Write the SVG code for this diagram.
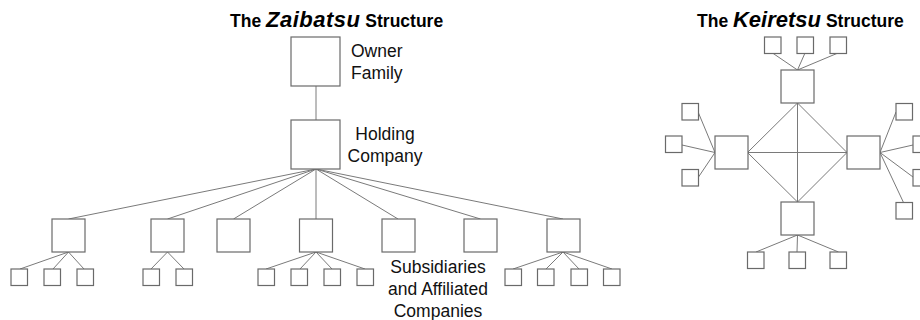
<svg xmlns="http://www.w3.org/2000/svg" width="920" height="320" viewBox="0 0 920 320">
  <style>
    .box { fill: #ffffff; stroke: #6a6a6a; stroke-width: 1.2; }
    .link { fill: none; stroke: #7a7a7a; stroke-width: 1; }
    .title { font-family: "Liberation Sans", Arial, sans-serif; font-weight: bold; font-size: 17.5px; fill: #000; }
    .title .em { font-style: italic; font-size: 22px; }
    .label { font-family: "Liberation Sans", Arial, sans-serif; font-size: 17.5px; fill: #111; }
  </style>
  <rect width="920" height="320" fill="#ffffff"/>

  <!-- Titles -->
  <text class="title" x="230" y="27">The <tspan class="em" letter-spacing="0.5">Zaibatsu</tspan> Structure</text>
  <text class="title" x="697" y="27">The <tspan class="em">Keiretsu</tspan> Structure</text>

  <!-- Connectors -->
  <g id="connectors" class="link">
    <!-- zaibatsu: family to holding -->
    <line x1="316" y1="86" x2="316" y2="120"/>
    <!-- holding to subsidiaries -->
    <line x1="316" y1="169" x2="68.5" y2="219"/>
    <line x1="316" y1="169" x2="167.5" y2="219"/>
    <line x1="316" y1="169" x2="233.5" y2="219"/>
    <line x1="316" y1="169" x2="316" y2="219"/>
    <line x1="316" y1="169" x2="398" y2="219"/>
    <line x1="316" y1="169" x2="480.5" y2="219"/>
    <line x1="316" y1="169" x2="563" y2="219"/>
    <!-- subsidiaries to affiliates -->
    <line x1="68.5" y1="252" x2="20" y2="269"/>
    <line x1="68.5" y1="252" x2="53" y2="269"/>
    <line x1="68.5" y1="252" x2="84" y2="269"/>
    <line x1="167.5" y1="252" x2="151" y2="269"/>
    <line x1="167.5" y1="252" x2="184" y2="269"/>
    <line x1="316" y1="252" x2="266" y2="269"/>
    <line x1="316" y1="252" x2="300" y2="269"/>
    <line x1="316" y1="252" x2="332" y2="269"/>
    <line x1="316" y1="252" x2="365" y2="269"/>
    <line x1="563" y1="252" x2="513" y2="269"/>
    <line x1="563" y1="252" x2="546" y2="269"/>
    <line x1="563" y1="252" x2="579" y2="269"/>
    <line x1="563" y1="252" x2="612" y2="269"/>

    <!-- keiretsu: core diamond -->
    <line x1="797.5" y1="103" x2="747.5" y2="152.5"/>
    <line x1="797.5" y1="103" x2="847" y2="152.5"/>
    <line x1="797.5" y1="202" x2="747.5" y2="152.5"/>
    <line x1="797.5" y1="202" x2="847" y2="152.5"/>
    <line x1="797.5" y1="103" x2="797.5" y2="202"/>
    <line x1="747.5" y1="152.5" x2="847" y2="152.5"/>
    <!-- top group -->
    <line x1="797.5" y1="70" x2="772.5" y2="53"/>
    <line x1="797.5" y1="70" x2="805" y2="53"/>
    <line x1="797.5" y1="70" x2="838" y2="53"/>
    <!-- bottom group -->
    <line x1="797.5" y1="235" x2="756" y2="252"/>
    <line x1="797.5" y1="235" x2="797" y2="252"/>
    <line x1="797.5" y1="235" x2="838.5" y2="252"/>
    <!-- left group -->
    <line x1="715" y1="152.5" x2="698.5" y2="113"/>
    <line x1="715" y1="152.5" x2="682" y2="145"/>
    <line x1="715" y1="152.5" x2="698.5" y2="177"/>
    <!-- right group -->
    <line x1="880" y1="152.5" x2="896" y2="112"/>
    <line x1="880" y1="152.5" x2="913" y2="145"/>
    <line x1="880" y1="152.5" x2="913" y2="177"/>
    <line x1="880" y1="152.5" x2="903.5" y2="202.5"/>
  </g>

  <!-- Zaibatsu nodes -->
  <g id="owner-family">
    <rect class="box" x="291" y="37" width="49" height="49"/>
    <text class="label" x="351" y="57">Owner</text>
    <text class="label" x="351" y="79">Family</text>
  </g>
  <g id="holding-company">
    <rect class="box" x="291" y="120" width="49" height="49"/>
    <text class="label" x="385" y="140" text-anchor="middle">Holding</text>
    <text class="label" x="385" y="162" text-anchor="middle">Company</text>
  </g>
  <g id="subsidiaries">
    <rect class="box" x="52" y="219" width="33" height="33"/>
    <rect class="box" x="151" y="219" width="33" height="33"/>
    <rect class="box" x="217" y="219" width="33" height="33"/>
    <rect class="box" x="299.5" y="219" width="33" height="33"/>
    <rect class="box" x="382" y="219" width="33" height="33"/>
    <rect class="box" x="464" y="219" width="33" height="33"/>
    <rect class="box" x="547" y="219" width="33" height="33"/>
  </g>
  <g id="affiliates">
    <rect class="box" x="11" y="269" width="16.5" height="16.5"/>
    <rect class="box" x="44" y="269" width="16.5" height="16.5"/>
    <rect class="box" x="77" y="269" width="16.5" height="16.5"/>
    <rect class="box" x="143" y="269" width="16.5" height="16.5"/>
    <rect class="box" x="176" y="269" width="16.5" height="16.5"/>
    <rect class="box" x="258" y="269" width="16.5" height="16.5"/>
    <rect class="box" x="291" y="269" width="16.5" height="16.5"/>
    <rect class="box" x="324" y="269" width="16.5" height="16.5"/>
    <rect class="box" x="357" y="269" width="16.5" height="16.5"/>
    <rect class="box" x="505" y="269" width="16.5" height="16.5"/>
    <rect class="box" x="537.5" y="269" width="16.5" height="16.5"/>
    <rect class="box" x="571" y="269" width="16.5" height="16.5"/>
    <rect class="box" x="603.5" y="269" width="16.5" height="16.5"/>
  </g>
  <g id="subsidiaries-label">
    <text class="label" x="438" y="273" text-anchor="middle">Subsidiaries</text>
    <text class="label" x="438" y="295" text-anchor="middle">and Affiliated</text>
    <text class="label" x="438" y="317" text-anchor="middle">Companies</text>
  </g>

  <!-- Keiretsu nodes -->
  <g id="core-top">
    <rect class="box" x="781" y="70" width="33" height="33"/>
  </g>
  <g id="core-left">
    <rect class="box" x="715" y="136" width="33" height="33"/>
  </g>
  <g id="core-right">
    <rect class="box" x="847" y="136" width="33" height="33"/>
  </g>
  <g id="core-bottom">
    <rect class="box" x="781" y="202" width="33" height="33"/>
  </g>
  <g id="top-members">
    <rect class="box" x="764.5" y="37" width="16.5" height="16.5"/>
    <rect class="box" x="797" y="37" width="16.5" height="16.5"/>
    <rect class="box" x="830" y="37" width="16.5" height="16.5"/>
  </g>
  <g id="bottom-members">
    <rect class="box" x="747.5" y="252" width="16.5" height="16.5"/>
    <rect class="box" x="789" y="252" width="16.5" height="16.5"/>
    <rect class="box" x="830" y="252" width="16.5" height="16.5"/>
  </g>
  <g id="left-members">
    <rect class="box" x="682" y="103.5" width="16.5" height="16.5"/>
    <rect class="box" x="665.5" y="136" width="16.5" height="16.5"/>
    <rect class="box" x="682" y="169.5" width="16.5" height="16.5"/>
  </g>
  <g id="right-members">
    <rect class="box" x="896" y="103.5" width="16.5" height="16.5"/>
    <rect class="box" x="913" y="136" width="16.5" height="16.5"/>
    <rect class="box" x="913" y="169.5" width="16.5" height="16.5"/>
    <rect class="box" x="896" y="202.5" width="16.5" height="16.5"/>
  </g>
</svg>
